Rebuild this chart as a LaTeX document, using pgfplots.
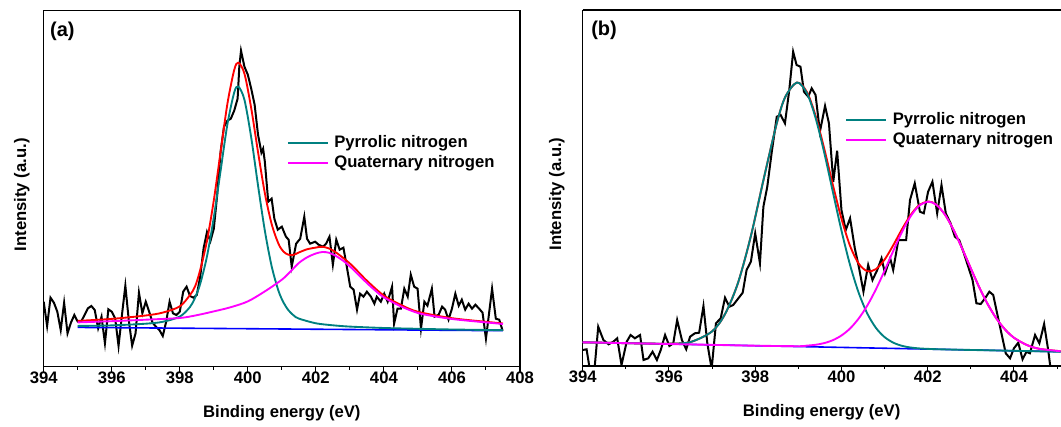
\documentclass[border=0pt]{standalone}
\usepackage{pgfplots}
\pgfplotsset{compat=1.18}
\usepackage{fontspec}
\setmainfont{Liberation Sans}
\definecolor{tealc}{RGB}{0,128,128}
\definecolor{magc}{RGB}{255,0,255}
\newcommand{\lf}{\bfseries\fontsize{12.5}{15}\selectfont}
\newcommand{\pf}{\bfseries\fontsize{15}{17}\selectfont}
\pgfplotsset{
  myax/.style={
    scale only axis,
    /pgf/number format/assume math mode=true,
    ymin=0,
    ytick=\empty,
    tick align=outside,
    major tick length=3.75pt,
    minor tick length=2.25pt,
    every tick/.style={black, line width=0.8pt},
    axis line style={line width=0.8pt},
    tick label style={font=\lf},
    xticklabel style={yshift=3.4pt},
    label style={font=\lf},
    xlabel={Binding energy (eV)},
    ylabel={Intensity (a.u.)},
    legend cell align=left,
    clip=true,
  },
}
\begin{document}
\begin{tikzpicture}
% ---------------- panel (a)
\begin{axis}[myax, at={(32.78pt,44.48pt)}, anchor=south west,
  width=357.2pt, height=266.8pt,
  xmin=394, xmax=408, ymax=355.7,
  xtick={394,396,...,408}, minor xtick={395,397,...,407}, xtick pos=left,
  xlabel style={at={(axis description cs:0.5,-0.144)}, anchor=base},
  ylabel style={at={(axis description cs:-0.046,0.483)}, anchor=center},
  legend style={draw=none, fill=none, font=\lf, inner sep=0pt, row sep=2.6pt, column sep=3pt,
    nodes={inner sep=1pt}, at={(rel axis cs:0.510,0.654)}, anchor=north west},
  legend image code/.code={\draw[#1] (0pt,0pt) -- (30pt,0pt);},
]
\addplot[black, line width=1.5pt, forget plot] coordinates {
(394.0,65.0)(394.1,40.7)(394.2,69.0)(394.3,64.0)(394.4,55.0)(394.5,36.7)(394.6,64.0)(394.7,33.4)(394.8,44.0)(394.9,51.7)
(395.0,45.0)(395.1,45.0)(395.2,51.7)(395.3,58.4)(395.4,60.7)(395.5,56.7)(395.6,38.4)(395.7,50.0)(395.8,23.4)(395.9,57.4)
(396.0,55.0)(396.1,48.4)(396.2,20.7)(396.3,51.7)(396.4,81.0)(396.5,46.7)(396.6,21.0)(396.7,33.4)(396.8,74.0)(396.9,53.4)
(397.0,65.0)(397.1,55.0)(397.2,44.0)(397.3,40.0)(397.4,36.7)(397.5,30.7)(397.6,45.0)(397.7,65.0)(397.8,53.4)(397.9,51.7)
(398.0,55.0)(398.1,75.0)(398.2,80.0)(398.3,70.7)(398.4,69.0)(398.5,71.7)(398.6,90.0)(398.7,118.4)(398.8,134.7)(398.9,125.5)
(399.0,138.0)(399.1,172.0)(399.2,215.0)(399.3,240.0)(399.4,246.0)(399.5,248.0)(399.6,256.0)(399.7,268.0)(399.75,300.0)(399.8,316.0)
(399.9,300.0)(400.0,292.0)(400.1,278.0)(400.2,262.0)(400.3,232.0)(400.4,214.0)(400.45,218.0)(400.5,205.0)(400.6,165.0)(400.7,168.0)
(400.78,148.0)(400.88,137.0)(401.0,140.0)(401.12,130.0)(401.2,127.0)(401.29,100.0)(401.42,123.0)(401.54,128.0)(401.66,150.0)(401.74,128.0)
(401.83,123.0)(401.98,125.0)(402.08,122.0)(402.21,120.0)(402.3,123.0)(402.4,130.0)(402.5,102.0)(402.6,127.0)(402.7,117.0)(402.81,119.0)
(402.91,100.0)(403.01,80.0)(403.11,77.0)(403.21,57.0)(403.3,73.0)(403.4,70.0)(403.5,75.0)(403.62,70.0)(403.72,63.0)(403.79,70.0)
(403.91,65.0)(404.01,73.0)(404.11,65.0)(404.24,80.0)(404.3,43.0)(404.4,58.0)(404.5,58.0)(404.6,78.0)(404.7,70.0)(404.79,92.0)
(404.89,80.0)(404.99,78.0)(405.09,38.0)(405.19,65.0)(405.28,61.0)(405.41,78.0)(405.49,50.0)(405.61,52.0)(405.71,60.0)(405.8,57.0)
(405.9,47.0)(406.0,58.0)(406.1,73.0)(406.2,61.0)(406.29,67.0)(406.39,57.0)(406.49,63.0)(406.59,58.0)(406.69,62.0)(406.8,58.0)
(406.9,54.0)(407.0,28.0)(407.18,78.0)(407.29,48.0)(407.39,47.0)(407.49,36.0)
};
\addplot[blue, line width=1.2pt, forget plot] coordinates {(395,39.3)(407.5,36.0)};
\addplot[red, line width=1.4pt, smooth, forget plot] coordinates {
(395,45.8)(396,47.8)(397,51.2)(397.5,54.1)(398,60.3)(398.3,71.7)(398.45,80.3)(398.6,96.7)(398.8,125.9)(399.0,166.3)
(399.2,214.8)(399.4,262.9)(399.6,296.7)(399.72,304.0)(399.9,293.1)(400.1,258.4)(400.3,214.6)(400.5,173.6)(400.7,142.7)(400.9,123.0)
(401.05,115.0)(401.2,111.9)(401.35,111.9)(401.5,114.2)(401.75,117.5)(402,119.1)(402.2,119.9)(402.5,116.3)(403,103.2)(403.5,86.0)
(404,71.1)(404.5,61.8)(405,54.9)(406,48.5)(407,44.9)(407.5,43.2)
};
\addplot[tealc, line width=1.4pt, smooth, forget plot] coordinates {
(395,40.75)(396,41.3)(397,43.0)(397.5,44.9)(398,50.1)(398.3,59.7)(398.45,69.0)(398.6,82.8)(398.8,110.4)(399.0,149.2)
(399.2,196.0)(399.4,242.4)(399.6,274.2)(399.72,280.1)(399.9,267.0)(400.1,229.1)(400.3,181.2)(400.5,136.1)(400.7,100.5)(400.9,76.0)
(401.05,64.1)(401.2,56.2)(401.35,51.2)(401.5,48.1)(402,43.4)(402.5,41.4)(403,40.1)(404,38.7)(405,37.9)(406,37.2)(407.5,36.5)
};
\addplot[magc, line width=1.4pt, smooth, forget plot] coordinates {
(395,44.3)(396,45.5)(397,47)(398,48.7)(398.5,51.5)(399,55.3)(399.5,59.5)(400,65.3)(400.5,75.3)(401,87)
(401.25,95)(401.5,103.7)(401.75,109.5)(402,113.2)(402.2,114.7)(402.4,113.8)(402.6,110.5)(402.8,106)(403,100.3)(403.25,92)
(403.5,83.7)(403.75,76)(404,69.3)(404.5,60.3)(405,53.7)(405.5,50.3)(406,47.7)(406.5,45.9)(407,44.3)(407.5,42.7)
};
\addlegendimage{tealc, line width=1.6pt}
\addlegendentry{Pyrrolic nitrogen}
\addlegendimage{magc, line width=1.6pt}
\addlegendentry{Quaternary nitrogen}
\node[anchor=west, font=\pf, inner sep=0pt] at (rel axis cs:0.013,0.944) {(a)};
\end{axis}
% ---------------- panel (b)
\begin{axis}[myax, at={(437.03pt,45pt)}, anchor=south west,
  width=358.35pt, height=267pt,
  xmin=394, xmax=405.08, ymax=356,
  axis x line*=box, axis y line*=left,
  xtick={394,396,...,404}, minor xtick={395,397,...,405}, xtick pos=left,
  xlabel style={at={(axis description cs:0.5,-0.143)}, anchor=base},
  ylabel style={at={(axis description cs:-0.0544,0.483)}, anchor=center},
  legend style={draw=none, fill=none, font=\lf, inner sep=0pt, row sep=2.6pt, column sep=3pt,
    nodes={inner sep=1pt}, at={(rel axis cs:0.549,0.716)}, anchor=north west},
  legend image code/.code={\draw[#1] (0pt,0pt) -- (30pt,0pt);},
]
\addplot[black, line width=1.5pt, forget plot] coordinates {
(394.0,16.0)(394.09,16.7)(394.17,-5)(394.27,-5)(394.36,39.3)(394.48,26.0)(394.6,21.7)(394.71,24.3)(394.8,27.7)(394.9,1.0)
(395.02,24.3)(395.11,31.0)(395.21,27.7)(395.33,31.0)(395.41,6.0)(395.52,7.7)(395.62,14.3)(395.72,6.0)(395.81,16.0)(395.91,31.0)
(396.01,20.0)(396.1,22.7)(396.19,46.0)(396.3,26.0)(396.4,16.7)(396.49,29.3)(396.6,32.7)(396.7,33.3)(396.8,60.0)(396.89,22.7)
(396.99,-3)(397.09,42.7)(397.2,47.7)(397.3,68.3)(397.4,59.3)(397.49,61.0)(397.61,67.7)(397.71,73.3)(397.8,96.0)(397.9,104.3)
(398.0,132.7)(398.11,102.7)(398.19,159.3)(398.28,179.3)(398.38,212.7)(398.5,249.3)(398.59,251.0)(398.69,242.7)(398.79,276.0)(398.88,314.3)
(398.96,301.0)(399.05,299.3)(399.13,274.3)(399.23,269.3)(399.31,277.7)(399.4,271.0)(399.5,234.3)(399.62,260.0)(399.71,242.7)(399.81,184.3)
(399.9,215.3)(400.0,156.0)(400.1,136.0)(400.2,147.7)(400.31,117.7)(400.41,97.7)(400.51,74.3)(400.62,101.0)(400.72,86.0)(400.83,96.0)
(400.93,107.7)(401.01,92.7)(401.13,107.7)(401.2,96.0)(401.32,126.0)(401.5,126.0)(401.59,166.0)(401.7,182.7)(401.82,154.3)(401.91,152.7)
(402.01,174.3)(402.11,184.3)(402.22,152.7)(402.32,181.0)(402.42,152.7)(402.53,142.7)(402.63,129.3)(402.73,126.0)(402.84,112.7)(402.94,99.3)
(403.04,86.0)(403.13,62.7)(403.23,62.0)(403.33,67.7)(403.43,74.3)(403.52,71.0)(403.61,52.7)(403.71,32.7)(403.81,12.7)(403.91,7.7)
(404.0,17.7)(404.1,23.3)(404.2,6.7)(404.29,14.3)(404.37,12.7)(404.49,31.0)(404.59,22.7)(404.7,42.0)(404.8,14.3)(404.87,-10)(405.0,-20)
};
\addplot[blue, line width=1.2pt, forget plot] coordinates {(394,23.7)(405.1,14.27)};
\addplot[red, line width=1.4pt, smooth, forget plot] coordinates {
(394,23.7)(395,22.85)(395.5,22.46)(396,22.3)(396.5,24.0)(397,34.6)(397.3,51.9)(397.6,83.0)(397.9,130.0)(398.2,187.6)
(398.5,242.7)(398.7,269.3)(398.97,283.5)(399.2,273.9)(399.4,250.2)(399.6,217.5)(399.8,181.3)(400,147.4)(400.2,120.1)(400.4,102.4)
(400.6,94.8)(400.8,96.9)(401,106.4)(401.2,120.7)(401.4,136.5)(401.6,150.7)(401.8,160.7)(402.02,164.5)(402.2,161.3)(402.4,151.4)
(402.6,136.1)(402.8,117.4)(403,97.6)(403.2,78.3)(403.4,61.2)(403.6,47.1)(403.8,36.2)(404,28.3)(404.3,21.0)(404.6,17.1)(405.1,14.7)
};
\addplot[tealc, line width=1.4pt, smooth, forget plot] coordinates {
(394,23.7)(395,22.85)(395.5,22.46)(396,22.3)(396.5,24.0)(397,34.6)(397.3,51.9)(397.6,83.0)(397.9,130.0)(398.2,187.6)
(398.5,242.7)(398.7,269.3)(398.97,283.5)(399.2,272.8)(399.4,248.1)(399.6,213.5)(399.8,174.3)(400,135.5)(400.2,101.0)(400.4,73.2)
(400.6,52.4)(400.8,38.1)(401,28.9)(401.2,23.4)(401.4,20.2)(401.6,18.5)(401.8,17.6)(402.02,17.1)(402.2,16.8)(402.6,16.39)
(403,16.05)(403.6,15.54)(404,15.2)(404.6,14.69)(405.1,14.27)
};
\addplot[magc, line width=1.4pt, smooth, forget plot] coordinates {
(394,23.7)(395,22.85)(396,22.0)(397,21.15)(398,20.3)(399,19.8)(399.2,20.4)(399.4,21.2)(399.6,22.9)(399.8,25.8)
(400,30.5)(400.2,37.5)(400.4,47.5)(400.6,60.5)(400.8,76.7)(401,95.3)(401.2,114.9)(401.4,133.7)(401.6,149.4)(401.8,160.2)
(402.02,164.3)(402.2,161.2)(402.4,151.4)(402.6,136.1)(402.8,117.4)(403,97.6)(403.2,78.3)(403.4,61.2)(403.6,47.1)(403.8,36.2)
(404,28.3)(404.3,21.0)(404.6,17.1)(405.1,14.7)
};
\addlegendimage{tealc, line width=1.6pt}
\addlegendentry{Pyrrolic nitrogen}
\addlegendimage{magc, line width=1.6pt}
\addlegendentry{Quaternary nitrogen}
\node[anchor=west, font=\pf, inner sep=0pt] at (rel axis cs:0.0174,0.944) {(b)};
\end{axis}
\pgfresetboundingbox
\path[use as bounding box] (0pt,0pt) rectangle (795.75pt,319.5pt);
\end{tikzpicture}
\end{document}
